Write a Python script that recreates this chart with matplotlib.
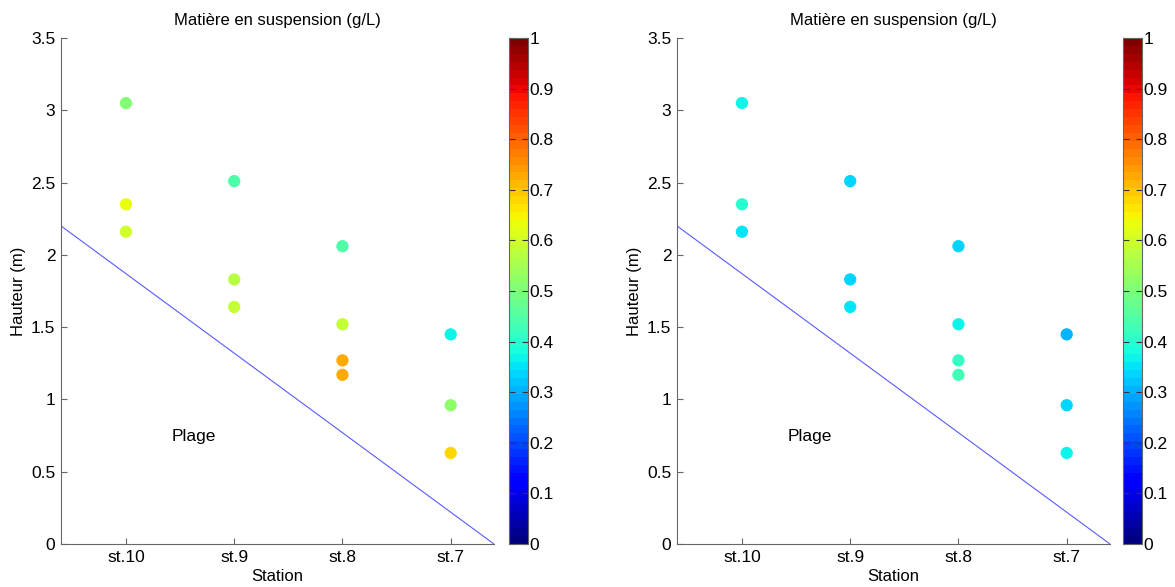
import numpy as np
import matplotlib.pyplot as plt
from matplotlib.ticker import FormatStrFormatter

plt.rcParams['font.family'] = ['Liberation Sans', 'DejaVu Sans']
plt.rcParams['font.size'] = 12

stations = ['st.10', 'st.9', 'st.8', 'st.7']
station_idx = [1, 1, 1, 2, 2, 2, 3, 3, 3, 3, 4, 4, 4]
hauteur = [3.05, 2.35, 2.16, 2.51, 1.83, 1.64, 2.06, 1.52, 1.27, 1.17, 1.45, 0.96, 0.63]
mes_gauche = [0.50, 0.63, 0.60, 0.44, 0.57, 0.59, 0.44, 0.58, 0.72, 0.72, 0.36, 0.52, 0.68]
mes_droite = [0.37, 0.40, 0.35, 0.34, 0.34, 0.35, 0.33, 0.36, 0.41, 0.43, 0.30, 0.34, 0.37]

plage_x = [0.4, 4.4]
plage_y = [2.2, 0.0]

cmap = plt.get_cmap('jet', 64)
W, H = 1175, 587
fig = plt.figure(figsize=(W / 100, H / 100), dpi=100)

panels = [(61, 509, mes_gauche), (677, 1123, mes_droite)]
for ax_left, cb_left, values in panels:
    ax = fig.add_axes([ax_left / W, 43 / H, 433 / W, 506 / H])
    sc = ax.scatter(station_idx, hauteur, c=values, cmap=cmap, vmin=0, vmax=1,
                    s=78, edgecolors='none', zorder=3)
    ax.plot(plage_x, plage_y, color='#5a5aff', linewidth=0.8)
    ax.text(1.425, 0.745, 'Plage', ha='left', va='center', fontsize=12.5)
    ax.set_xlim(0.4, 4.4)
    ax.set_ylim(0, 3.5)
    ax.set_xticks(range(1, len(stations) + 1))
    ax.set_xticklabels(stations)
    ax.set_yticks(np.arange(0, 3.51, 0.5))
    ax.yaxis.set_major_formatter(FormatStrFormatter('%g'))
    ax.spines['top'].set_visible(False)
    ax.spines['right'].set_visible(False)
    for sp in ['left', 'bottom']:
        ax.spines[sp].set_color('0.4')
    ax.tick_params(direction='in', length=4, color='0.4', pad=4, labelsize=12.5)
    ax.set_title('Matière en suspension (g/L)', fontsize=12, pad=9)
    ax.set_xlabel('Station', labelpad=3)
    ax.set_ylabel('Hauteur (m)', labelpad=4)

    cax = fig.add_axes([cb_left / W, 43 / H, 19 / W, 506 / H])
    cb = fig.colorbar(sc, cax=cax, ticks=np.arange(0, 1.01, 0.1))
    cb.ax.yaxis.set_major_formatter(FormatStrFormatter('%g'))
    cb.ax.tick_params(direction='in', length=4, left=True, right=True, pad=1,
                      color='0.2', labelsize=12.5)
    cb.outline.set_edgecolor('0.4')

fig.savefig('out.png', dpi=100)
